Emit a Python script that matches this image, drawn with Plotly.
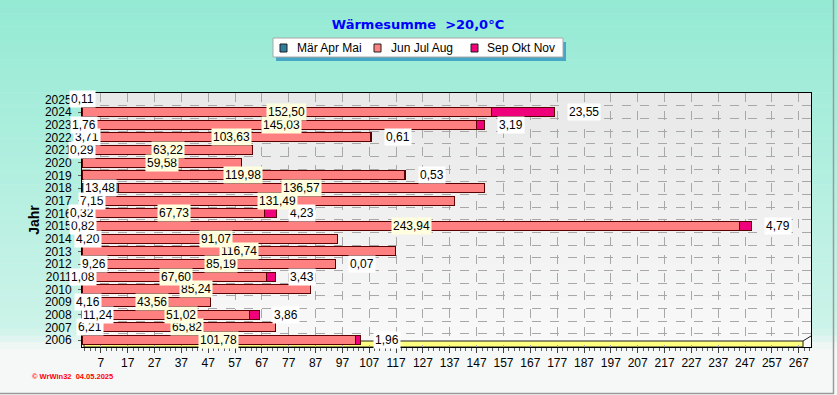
import plotly.graph_objects as go

# ---------------- data ----------------
years = [2006, 2007, 2008, 2009, 2010, 2011, 2012, 2013, 2014, 2015,
         2016, 2017, 2018, 2019, 2020, 2021, 2022, 2023, 2024, 2025]
spring = [0, 6.21, 11.24, 4.16, 0, 1.08, 9.26, 0, 4.20, 0.82,
          0.32, 7.15, 13.48, 0, 0, 0.29, 3.71, 1.76, 0, 0.11]
summer = [101.78, 65.82, 51.02, 43.56, 85.24, 67.60, 85.19, 116.74, 91.07, 243.94,
          67.73, 131.49, 136.57, 119.98, 59.58, 63.22, 103.63, 145.03, 152.50, 0]
autumn = [1.96, 0, 3.86, 0, 0, 3.43, 0.07, 0, 0, 4.79,
          4.23, 0, 0, 0.53, 0, 0, 0.61, 3.19, 23.55, 0]
series_names = ["Mär Apr Mai", "Jun Jul Aug", "Sep Okt Nov"]
x_ticks = list(range(7, 268, 10))
title_text = "Wärmesumme  >20,0°C"
y_title = "Jahr"
footer_text = "© WrWin32  04.05.2025"

# ---------------- geometry helpers ----------------
W, H = 837, 395
L, R, T, B = 82, 811, 93, 347
PW, PH = R - L, B - T


def px(x):
    return (x - L) / PW


def py(y):
    return (B - y) / PH


def lerp(c1, c2, t):
    return "rgb(%d,%d,%d)" % tuple(round(a + (b - a) * t) for a, b in zip(c1, c2))


FONT = "Liberation Sans"
C_SPRING = "#2F7C9C"
C_SUMMER = "#FF8080"
C_AUTUMN = "#F0007A"
EDGE = "#5A0000"
colors = [C_SPRING, C_SUMMER, C_AUTUMN]

fig = go.Figure()
for vals, name, col, edge in zip([spring, summer, autumn], series_names, colors,
                                 ["#103040", EDGE, EDGE]):
    fig.add_trace(go.Bar(y=years, x=vals, name=name, orientation="h",
                         marker=dict(color=col, line=dict(color=edge, width=1)),
                         width=0.72, showlegend=False, hoverinfo="skip"))

# ---------------- background gradients ----------------
shapes = []
N = 60
top_c, mid_c, bot_c = (148, 234, 212), (205, 243, 233), (246, 248, 247)
for i in range(N):
    y0 = i * H / N
    y1 = (i + 1) * H / N + 0.5
    yc = (y0 + y1) / 2
    if yc < 330:
        col = lerp(top_c, mid_c, yc / 330)
    else:
        col = lerp(mid_c, bot_c, min(1, (yc - 330) / 20))
    shapes.append(dict(type="rect", xref="paper", yref="paper", layer="below",
                       x0=px(0), x1=px(W), y0=py(y1), y1=py(y0),
                       fillcolor=col, line=dict(width=0)))
M = 30
for i in range(M):
    y0 = T + i * PH / M
    y1 = T + (i + 1) * PH / M + 0.5
    col = lerp((232, 232, 232), (249, 249, 249), i / (M - 1))
    shapes.append(dict(type="rect", xref="paper", yref="paper", layer="below",
                       x0=0, x1=1, y0=max(0, py(y1)), y1=py(y0),
                       fillcolor=col, line=dict(width=0)))
# yellow floor
shapes.append(dict(type="rect", xref="paper", yref="paper", layer="between",
                   x0=px(84), x1=px(803), y0=0, y1=py(341),
                   fillcolor="#FFFF80", line=dict(color="#202020", width=1)))
shapes.append(dict(type="line", xref="paper", yref="paper", layer="between",
                   x0=px(803), x1=px(811), y0=py(341), y1=py(336),
                   line=dict(color="#202020", width=1)))
# outer frame
shapes.append(dict(type="line", xref="paper", yref="paper", layer="above",
                   x0=px(0), x1=px(834), y0=py(393.5), y1=py(393.5),
                   line=dict(color="#9A9A9A", width=1.5)))
shapes.append(dict(type="line", xref="paper", yref="paper", layer="above",
                   x0=px(833.5), x1=px(833.5), y0=py(0), y1=py(394),
                   line=dict(color="#9A9A9A", width=1.5)))

# ---------------- manual legend ----------------
LX0, LX1, LY0, LY1 = 273, 563, 38, 57
shapes.append(dict(type="rect", xref="paper", yref="paper", layer="above",
                   x0=px(LX0 + 3), x1=px(LX1 + 3), y0=py(LY1 + 4), y1=py(LY0 + 4),
                   fillcolor="#46A6C6", line=dict(width=0)))
shapes.append(dict(type="rect", xref="paper", yref="paper", layer="above",
                   x0=px(LX0), x1=px(LX1), y0=py(LY1), y1=py(LY0),
                   fillcolor="#FFFFFF", line=dict(color="#A8A8A8", width=1)))
legend_marker_x = [280, 374, 471]
legend_text_x = [295, 389, 485]
annotations = []
for mx, tx, col, name in zip(legend_marker_x, legend_text_x, colors, series_names):
    shapes.append(dict(type="rect", xref="paper", yref="paper", layer="above",
                       x0=px(mx), x1=px(mx + 7), y0=py(52), y1=py(44),
                       fillcolor=col, line=dict(color="#202020", width=1)))
    annotations.append(dict(text=name, xref="paper", yref="paper", x=px(tx), y=py(47.5),
                            xanchor="left", yanchor="middle", showarrow=False,
                            font=dict(family=FONT, size=12, color="#000000")))

# ---------------- value labels ----------------


def fmt(v):
    return ("%.2f" % v).replace(".", ",")


def add_label(x, y, v, bg, anchor, xshift):
    annotations.append(dict(x=x, y=y, xref="x", yref="y", text=fmt(v), showarrow=False,
                            xanchor=anchor, yanchor="middle", borderpad=1,
                            bgcolor=bg, xshift=xshift,
                            font=dict(family=FONT, size=12, color="#000000")))


for yr, s, m, a in zip(years, spring, summer, autumn):
    if s > 0:
        add_label(s / 2, yr, s, "#FFFFFF", "center", 0)
    if m > 0:
        add_label(s + m / 2, yr, m, "#FFFFE0", "center", 0)
    if a > 0:
        add_label(s + m + a, yr, a, "#FFFFFF", "left", 12)

annotations.append(dict(text=footer_text, xref="paper", yref="paper",
                        x=px(30), y=py(376), xanchor="left", yanchor="middle",
                        showarrow=False,
                        font=dict(family=FONT, size=7.5, color="#FF0000", weight="bold")))

fig.update_layout(
    width=W, height=H,
    margin=dict(l=L, r=W - R, t=T, b=H - B),
    barmode="stack",
    paper_bgcolor="#F6F8F7",
    plot_bgcolor="rgba(0,0,0,0)",
    font=dict(family=FONT, size=12, color="#000000"),
    showlegend=False,
    hovermode=False,
    title=dict(text=title_text, x=418 / W, xanchor="center", y=1 - 24 / H, yanchor="middle",
               font=dict(family="DejaVu Sans", size=13, color="#0000FF", weight="bold")),
    xaxis=dict(range=[0, 271.55], tickmode="array", tickvals=x_ticks,
               ticks="outside", ticklen=5, tickcolor="#404040",
               showgrid=True, gridcolor="#A8A8A8", griddash="dash", gridwidth=1,
               showline=True, linecolor="#000000", linewidth=1, mirror=True,
               zeroline=False, tickfont=dict(family=FONT, size=12),
               minor=dict(dtick=2, tick0=7, ticks="outside", ticklen=3,
                          tickcolor="#606060", showgrid=False)),
    yaxis=dict(range=[2005.45, 2025.5], tickmode="array", tickvals=years,
               ticktext=[str(y) for y in years],
               ticks="outside", ticklen=3, tickcolor="#606060", ticklabelstandoff=4,
               showgrid=False, showline=True, linecolor="#000000", linewidth=1,
               mirror=True, zeroline=False, tickfont=dict(family=FONT, size=12),
               title=dict(text=y_title, standoff=1,
                          font=dict(family=FONT, size=14, weight="bold")),
               minor=dict(tick0=2005.5, dtick=1, showgrid=True, gridcolor="#A8A8A8",
                          griddash="dash", gridwidth=1, ticks="")),
    shapes=shapes,
    annotations=annotations,
)

fig.write_html("out.html", config={"displayModeBar": False, "staticPlot": True},
               post_script="document.body.style.margin='0';")
